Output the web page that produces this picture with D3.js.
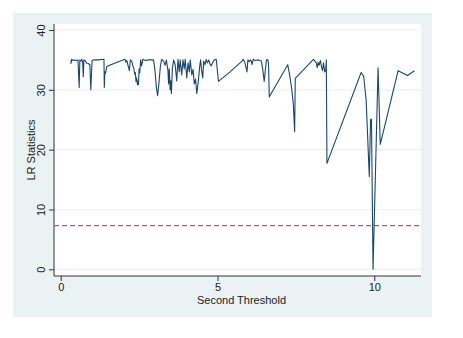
<!DOCTYPE html>
<html>
<head>
<meta charset="utf-8">
<script src="https://cdn.jsdelivr.net/npm/d3@7"></script>
<style>
  body { margin: 0; background: #fff; }
  text { font-family: "Liberation Sans", Arial, sans-serif; fill: #222; }
</style>
</head>
<body>
<div id="chart"></div>
<script>
// threshold values (x) and LR statistics (y)
var thresholds = [
  0.33, 0.33, 0.35, 0.40, 0.45, 0.50, 0.55, 0.59, 0.61, 0.65, 0.67, 0.70, 0.72, 0.74, 0.78, 0.82, 0.88, 0.93, 0.96, 1.00,
  1.05, 1.20, 1.38, 1.39, 1.41, 1.43, 1.47, 1.60, 1.80, 2.05, 2.08, 2.11, 2.16, 2.19, 2.22, 2.27, 2.30, 2.33, 2.36, 2.38,
  2.40, 2.42, 2.45, 2.47, 2.48, 2.50, 2.52, 2.55, 2.58, 2.62, 2.70, 2.80, 2.96, 3.00, 3.05, 3.09, 3.13, 3.18, 3.22, 3.28,
  3.33, 3.37, 3.42, 3.44, 3.46, 3.49, 3.51, 3.53, 3.56, 3.60, 3.65, 3.70, 3.74, 3.78, 3.81, 3.86, 3.90, 3.94, 3.97, 4.02,
  4.06, 4.10, 4.13, 4.18, 4.22, 4.26, 4.30, 4.34, 4.36, 4.39, 4.43, 4.46, 4.50, 4.53, 4.56, 4.60, 4.64, 4.68, 4.72, 4.76,
  4.80, 4.85, 4.90, 4.96, 5.03, 5.40, 5.78, 5.82, 5.87, 5.92, 5.94, 5.97, 6.02, 6.05, 6.08, 6.10, 6.14, 6.20, 6.30, 6.40,
  6.44, 6.49, 6.52, 6.56, 6.61, 6.63, 6.65, 7.24, 7.30, 7.37, 7.42, 7.46, 7.48, 8.06, 8.12, 8.15, 8.18, 8.21, 8.24, 8.28,
  8.32, 8.35, 8.38, 8.42, 8.45, 8.47, 8.49, 9.58, 9.66, 9.74, 9.84, 9.88, 9.91, 9.96, 10.12, 10.19, 10.76, 11.06, 11.28
];
var lrStats = [
  35.0, 34.4, 35.1, 34.9, 35.0, 34.9, 35.0, 30.4, 35.0, 34.8, 35.1, 34.7, 32.2, 35.0, 34.9, 34.5, 34.4, 34.2, 30.0, 34.9,
  35.0, 35.0, 35.1, 30.4, 33.0, 32.8, 33.9, 34.2, 34.6, 35.1, 34.6, 34.9, 33.8, 33.2, 35.0, 34.7, 34.0, 33.6, 32.6, 32.9,
  31.4, 32.0, 30.8, 31.5, 30.9, 33.5, 32.8, 35.0, 34.0, 35.1, 34.9, 35.0, 35.0, 33.5, 30.5, 29.0, 31.0, 34.0, 35.1, 34.8,
  34.1, 35.0, 33.2, 31.0, 33.5, 30.0, 31.5, 29.4, 33.5, 35.0, 34.2, 31.5, 35.1, 33.0, 35.0, 32.5, 35.0, 33.5, 35.1, 32.0,
  34.5, 33.0, 35.0, 32.5, 33.4, 31.0, 31.8, 29.4, 30.2, 31.5, 33.8, 35.0, 33.0, 32.0, 34.8, 34.2, 35.1, 34.5, 35.0, 34.3,
  34.0, 34.6, 35.0, 35.1, 31.4, 33.0, 34.8, 35.1, 34.6, 33.5, 33.0, 35.0, 34.7, 35.0, 34.8, 34.2, 35.1, 34.9, 35.0, 34.8,
  33.5, 31.4, 33.0, 35.0, 35.0, 34.0, 28.8, 34.2, 32.5, 30.0, 27.5, 23.0, 31.9, 35.1, 34.7, 34.5, 33.7, 34.6, 34.1, 34.9,
  33.8, 33.2, 34.5, 33.0, 33.2, 35.0, 17.7, 32.9, 32.3, 28.3, 15.5, 25.0, 25.1, 0.0, 33.7, 20.9, 33.2, 32.4, 33.2
];
var criticalValue = [7.3];
var xTicks = [0, 5, 10];
var yTicks = [0, 10, 20, 30, 40];

var width = 463, height = 338;
var plot = {left: 54, right: 421, top: 24, bottom: 276};

var svg = d3.select("#chart").append("svg")
    .attr("width", width)
    .attr("height", height);

// graph region (stata s2color)
svg.append("rect")
    .attr("x", 13).attr("y", 13)
    .attr("width", 419).attr("height", 304)
    .attr("fill", "#eaf2f3");

svg.append("rect")
    .attr("x", plot.left).attr("y", plot.top)
    .attr("width", plot.right - plot.left).attr("height", plot.bottom - plot.top)
    .attr("fill", "#ffffff");

var x = d3.scaleLinear().domain([0, 10]).range([60.7, 374.3]);
var y = d3.scaleLinear().domain([0, 40]).range([269.3, 30]);

// grid
svg.append("g").selectAll("line")
    .data(yTicks)
    .enter().append("line")
    .attr("x1", plot.left).attr("x2", plot.right)
    .attr("y1", function (d) { return y(d); })
    .attr("y2", function (d) { return y(d); })
    .attr("stroke", "#eaf2f3")
    .attr("stroke-width", 1.2);

// y axis
var yAxis = svg.append("g")
    .attr("transform", "translate(" + plot.left + ",0)")
    .call(d3.axisLeft(y).tickValues(yTicks).tickSize(5).tickPadding(3).tickSizeOuter(0));
yAxis.select(".domain").remove();
yAxis.selectAll(".tick line").attr("stroke", "#333");
yAxis.selectAll(".tick text")
    .attr("x", null).attr("dy", null)
    .attr("text-anchor", "middle")
    .attr("transform", "translate(-9,0) rotate(-90)")
    .style("font-size", "11px")
    .style("font-family", "Liberation Sans, Arial, sans-serif")
    .attr("fill", "#222");
svg.append("line")
    .attr("x1", plot.left).attr("x2", plot.left)
    .attr("y1", plot.top).attr("y2", plot.bottom)
    .attr("stroke", "#333");

// x axis
var xAxis = svg.append("g")
    .attr("transform", "translate(0," + plot.bottom + ")")
    .call(d3.axisBottom(x).tickValues(xTicks).tickSize(5).tickPadding(2).tickSizeOuter(0));
xAxis.select(".domain").remove();
xAxis.selectAll(".tick line").attr("stroke", "#333");
xAxis.selectAll(".tick text")
    .style("font-size", "11px")
    .style("font-family", "Liberation Sans, Arial, sans-serif")
    .attr("fill", "#222");
svg.append("line")
    .attr("x1", plot.left).attr("x2", plot.right)
    .attr("y1", plot.bottom).attr("y2", plot.bottom)
    .attr("stroke", "#333");

// titles
svg.append("text")
    .attr("x", (plot.left + plot.right) / 2 + 4)
    .attr("y", 304)
    .attr("text-anchor", "middle")
    .style("font-size", "11px")
    .text("Second Threshold");

svg.append("text")
    .attr("transform", "translate(35," + (plot.top + plot.bottom) / 2 + ") rotate(-90)")
    .attr("text-anchor", "middle")
    .style("font-size", "11px")
    .text("LR Statistics");

// critical value
svg.append("g").selectAll("line")
    .data(criticalValue)
    .enter().append("line")
    .attr("x1", plot.left).attr("x2", plot.right)
    .attr("y1", function (d) { return y(d); })
    .attr("y2", function (d) { return y(d); })
    .attr("stroke", "#dc4a6a")
    .attr("stroke-width", 1.3)
    .attr("stroke-dasharray", "5,3");

// LR line
var pts = thresholds.map(function (t, i) { return [t, lrStats[i]]; });
var line = d3.line()
    .x(function (d) { return x(d[0]); })
    .y(function (d) { return y(d[1]); });

svg.append("path")
    .datum(pts)
    .attr("d", line)
    .attr("fill", "none")
    .attr("stroke", "#1a476f")
    .attr("stroke-width", 1.1)
    .attr("stroke-linejoin", "round");
</script>
</body>
</html>
